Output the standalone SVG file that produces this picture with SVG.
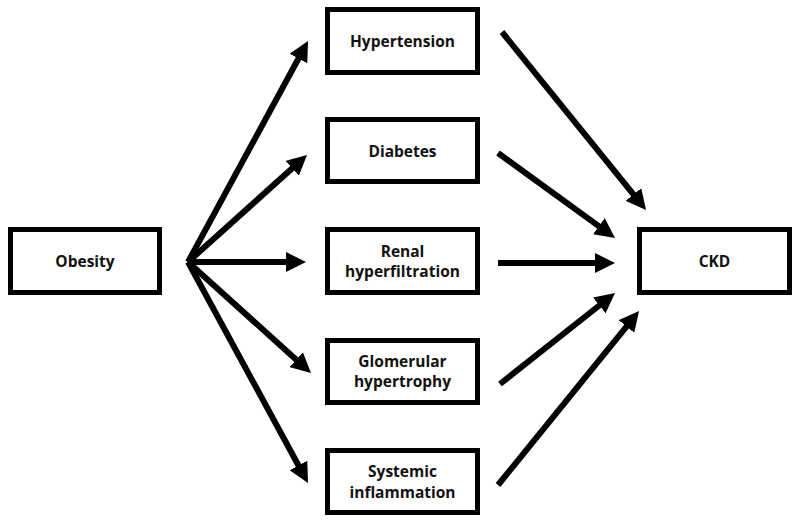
<svg xmlns="http://www.w3.org/2000/svg" width="800" height="524" viewBox="0 0 800 524">
<defs>
<style>
.box{fill:#fff;stroke:#000;stroke-width:5}
.lbl{font-family:"Open Sans","Noto Sans","Liberation Sans",sans-serif;font-weight:bold;font-size:15.5px;fill:#111;text-anchor:middle}
.arr{stroke:#000;stroke-width:6;fill:none;marker-end:url(#ah)}
</style>
<marker id="ah" markerUnits="userSpaceOnUse" markerWidth="20" markerHeight="20" refX="8" refY="10" orient="auto">
<path d="M0,0 L20,10 L0,20 z" fill="#000"/>
</marker>
</defs>
<rect width="800" height="524" fill="#fff"/>
<g id="obesity"><rect class="box" x="10.5" y="229.5" width="149" height="63"/><text class="lbl" x="85" y="267">Obesity</text></g>
<g id="hypertension"><rect class="box" x="327.5" y="9.5" width="150" height="63"/><text class="lbl" x="402.5" y="47">Hypertension</text></g>
<g id="diabetes"><rect class="box" x="327.5" y="119.5" width="150" height="62"/><text class="lbl" x="402.5" y="157">Diabetes</text></g>
<g id="renal"><rect class="box" x="327.5" y="229.5" width="150" height="63"/><text class="lbl" x="402.5" y="257">Renal</text><text class="lbl" x="402.5" y="277">hyperfiltration</text></g>
<g id="glomerular"><rect class="box" x="327.5" y="340.5" width="150" height="62"/><text class="lbl" x="402.5" y="367">Glomerular</text><text class="lbl" x="402.5" y="387">hypertrophy</text></g>
<g id="systemic"><rect class="box" x="327.5" y="450.5" width="150" height="62"/><text class="lbl" x="402.5" y="477">Systemic</text><text class="lbl" x="402.5" y="498">inflammation</text></g>
<g id="ckd"><rect class="box" x="639.5" y="229.5" width="150" height="63"/><text class="lbl" x="714.5" y="267">CKD</text></g>
<g id="connectors">
<line class="arr" x1="188" y1="262" x2="302.3" y2="51.5"/>
<line class="arr" x1="188" y1="262" x2="298.1" y2="163"/>
<line class="arr" x1="188" y1="262" x2="294" y2="262"/>
<line class="arr" x1="188" y1="262" x2="302.1" y2="365"/>
<line class="arr" x1="188" y1="262" x2="302.3" y2="472.5"/>
<line class="arr" x1="502" y1="32" x2="638.5" y2="200.7"/>
<line class="arr" x1="498" y1="153" x2="605.3" y2="230.9"/>
<line class="arr" x1="498" y1="263" x2="603" y2="263"/>
<line class="arr" x1="500" y1="384" x2="605.6" y2="300.5"/>
<line class="arr" x1="498" y1="485" x2="631.5" y2="320.3"/>
</g>
</svg>
